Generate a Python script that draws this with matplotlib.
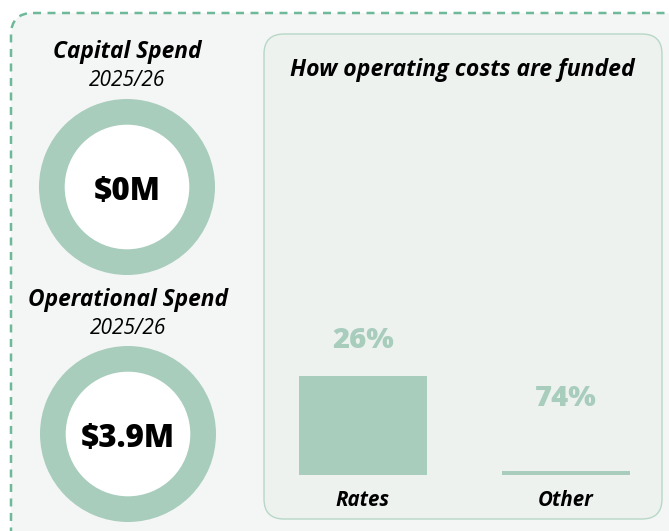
import matplotlib.pyplot as plt
from matplotlib.patches import FancyBboxPatch

# spend summary
spend_titles = ["Capital Spend", "Operational Spend"]
spend_years = ["2025/26", "2025/26"]
spend_amounts = ["$0M", "$3.9M"]

# funding bars
fund_cats = ["Rates", "Other"]
fund_pct = [26, 74]
fund_heights = [26, 1.0]

GREEN = "#a8cdbd"
W, H = 669, 531

plt.rcParams['font.family'] = ['Open Sans', 'DejaVu Sans']

fig = plt.figure(figsize=(W / 100, H / 100), dpi=100)
fig.patch.set_facecolor("white")

# background axes in pixel coords
bg = fig.add_axes([0, 0, 1, 1])
bg.set_xlim(0, W)
bg.set_ylim(H, 0)
bg.axis("off")

outer = FancyBboxPatch((11, 13), 680, 540, boxstyle="round,pad=0,rounding_size=22",
                       facecolor="#f4f6f5", edgecolor="#6fb99b", linewidth=1.8,
                       linestyle=(0, (3.2, 2.6)))
bg.add_patch(outer)
panel = FancyBboxPatch((264, 34), 398, 485, boxstyle="round,pad=0,rounding_size=20",
                       facecolor="#edf2ef", edgecolor="#b7d8c8", linewidth=1.0)
bg.add_patch(panel)

bg.text(462, 70, "How operating costs are funded", ha="center", va="center",
        fontsize=16.6, fontweight="bold", style="italic", color="black")

# donuts
centers = [(127, 187), (128, 434)]
title_y = [52, 300]
year_y = [81, 329]
R = 88
for i in range(2):
    cx, cy = centers[i]
    ax = fig.add_axes([(cx - R) / W, 1 - (cy + R) / H, 2 * R / W, 2 * R / H])
    ax.pie([1], colors=[GREEN], radius=1.0, startangle=90,
           wedgeprops=dict(width=0.3, linewidth=0))
    ax.add_patch(plt.Circle((0, 0), 0.7, color="white", zorder=3))
    ax.set_xlim(-1, 1)
    ax.set_ylim(-1, 1)
    ax.set_aspect("equal")
    ax.text(0, -0.06, spend_amounts[i], ha="center", va="center", fontsize=22.5,
            fontweight="heavy", color="black", zorder=4)
    bg.text(cx, title_y[i], spend_titles[i], ha="center", va="center",
            fontsize=16.4, fontweight="bold", style="italic", color="black")
    bg.text(cx, year_y[i], spend_years[i], ha="center", va="center",
            fontsize=15, style="italic", color="black")

# bar chart
y0, y1 = 475, 100
x0, x1 = 264, 662
spacing = 203
bx = fig.add_axes([x0 / W, 1 - y0 / H, (x1 - x0) / W, (y0 - y1) / H])
bx.set_xlim(-(363 - x0) / spacing, (x1 - 363) / spacing)
bx.set_ylim(0, 26 * (y0 - y1) / 99)
bx.axis("off")
bars = bx.bar(range(len(fund_cats)), fund_heights, width=128 / spacing, color=GREEN)
label_offsets = [35, 73]
for i, b in enumerate(bars):
    bx.annotate(f"{fund_pct[i]}%", (b.get_x() + b.get_width() / 2, b.get_height()),
                xytext=(0, label_offsets[i] * 0.72), textcoords="offset points",
                ha="center", va="center", fontsize=21, fontweight="heavy", color=GREEN)
    bx.annotate(fund_cats[i], (b.get_x() + b.get_width() / 2, 0),
                xytext=(0, -26 * 0.72), textcoords="offset points",
                ha="center", va="center", fontsize=14.8, fontweight="bold",
                style="italic", color="black")

fig.savefig("out.png", dpi=100)
